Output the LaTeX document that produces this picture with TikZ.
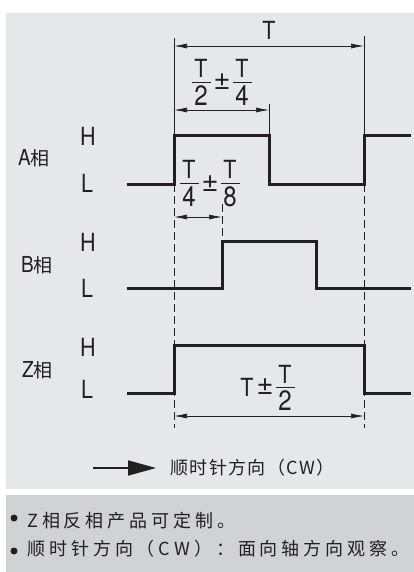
\documentclass[tikz,border=0pt]{standalone}
\usepackage{fontspec}
\setmainfont{TeX Gyre Heros}
\newfontfamily\cjk{Noto Sans CJK SC}
\newfontfamily\cjkwide[LetterSpace=22]{Noto Sans CJK SC}
\newfontfamily\cjkmid[LetterSpace=8]{Noto Sans CJK SC}
\newfontfamily\narrow[FakeStretch=0.86]{TeX Gyre Heros}
\usetikzlibrary{arrows.meta}
\definecolor{panelA}{HTML}{E6E7E9}
\definecolor{panelB}{HTML}{D1D2D4}
\definecolor{ink}{HTML}{231F20}
\tikzset{
  x=1pt,y=-1pt,
  signal/.style={draw=ink,line width=3pt,line join=miter},
  dim/.style={draw=ink,line width=0.7pt,{Latex[length=13pt,width=5pt]}-{Latex[length=13pt,width=5pt]}},
  ext/.style={draw=ink,line width=0.8pt},
  dashext/.style={draw=ink,line width=0.8pt,dash pattern=on 8pt off 4pt},
  bar/.style={draw=ink,line width=0.8pt},
  lab/.style={text=ink,inner sep=0pt,font=\fontsize{25}{25}\selectfont\narrow},
  dig/.style={text=ink,inner sep=0pt,font=\fontsize{28}{28}\selectfont\narrow},
  pm/.style={text=ink,inner sep=0pt,font=\fontsize{29}{29}\selectfont},
  cn/.style={text=ink,inner sep=0pt,font=\fontsize{19}{19}\selectfont\cjk},
  note/.style={text=ink,inner sep=0pt,anchor=west,font=\fontsize{18}{18}\selectfont\cjkwide},
  dotm/.style={circle,fill=ink,inner sep=0pt,minimum size=7pt}
}
\begin{document}
\begin{tikzpicture}
\useasboundingbox (0,0) rectangle (414,572);
\fill[white] (0,0) rectangle (414,572);
\fill[panelA] (6,13) rectangle (414,489);
\fill[panelB] (6,495) rectangle (414,572);
% coordinates
\coordinate (ta) at (174,38); \coordinate (tb) at (364,36);
\coordinate (ma) at (174,46); \coordinate (mb) at (364,46);
\coordinate (ha) at (174,110); \coordinate (hb) at (269,110);
\coordinate (qa) at (174,217); \coordinate (qb) at (222,217);
\coordinate (za) at (174,416); \coordinate (zb) at (364,416);
% extension lines
\draw[ext] (ta) -- (174,137);
\draw[ext] (tb) -- (364,137);
\draw[ext] (269,104) -- (269,137);
\draw[dashext] (174,184) -- (174,428);
\draw[dashext] (364,184) -- (364,428);
\draw[dashext] (222,204) -- (222,241);
% signals
\draw[signal] (127,184) -- (174,184) -- (174,136) -- (269,136) -- (269,184) -- (364,184) -- (364,136) -- (411,136);
\draw[signal] (127,288) -- (222,288) -- (222,241) -- (316,241) -- (316,288) -- (411,288);
\draw[signal] (127,393) -- (174,393) -- (174,345) -- (364,345) -- (364,393) -- (411,393);
% dimensions
\draw[dim] (ma) -- (mb);
\draw[dim] (ha) -- (hb);
\draw[dim] (qa) -- (qb);
\draw[dim] (za) -- (zb);
% formula labels
\node[lab] (t) at (269,30) {T};
\node[lab] (f1n) at (201,68) {T};
\draw[bar] (192,82) -- (211,82);
\node[dig] (f1d) at (201,95.5) {2};
\node[pm] (f1p) at (222,82) {±};
\node[lab] (f1m) at (242,68) {T};
\draw[bar] (233,82) -- (252,82);
\node[dig] (f1e) at (242,95.5) {4};
\node[lab] (f2n) at (189,169) {T};
\draw[bar] (180,183) -- (199,183);
\node[dig] (f2d) at (189,197) {4};
\node[pm] (f2p) at (210,184) {±};
\node[lab] (f2m) at (230,169) {T};
\draw[bar] (221,183) -- (240,183);
\node[dig] (f2e) at (230,197) {8};
\node[lab] (f3t) at (247,387) {T};
\node[pm] (f3p) at (265,387) {±};
\node[lab] (f3n) at (285,374) {T};
\draw[bar] (276,387) -- (295,387);
\node[dig] (f3d) at (285,401) {2};
% levels
\node[lab] (h1) at (88,136) {H};
\node[lab] (l1) at (87,183) {L};
\node[lab] (h2) at (88,242) {H};
\node[lab] (l2) at (87,288) {L};
\node[lab] (h3) at (88,347) {H};
\node[lab] (l3) at (87,389) {L};
% phases
\node[cn,anchor=west] (pa) at (18,158) {{\fontsize{22}{22}\selectfont\narrow A}相};
\node[cn,anchor=west] (pb) at (21,265) {{\fontsize{22}{22}\selectfont\narrow B}相};
\node[cn,anchor=west] (pz) at (22,370) {{\fontsize{22}{22}\selectfont\narrow Z}相};
% direction
\coordinate (d0) at (93,468);
\node[cn,anchor=west,font=\fontsize{18}{18}\selectfont\cjkmid] (dt) at (170,468) {顺时针方向（CW）};
\draw[draw=ink,line width=1.7pt,-{Triangle[length=28pt,width=15pt]}] (d0) -- (156,468);
% notes
\node[dotm] (b1) at (14,518) {};
\node[dotm] (b2) at (14,551) {};
\node[note] (n1) at (27,521) {Z相反相产品可定制。};
\node[note] (n2) at (27,549) {顺时针方向（CW）：面向轴方向观察。};
\end{tikzpicture}
\end{document}
